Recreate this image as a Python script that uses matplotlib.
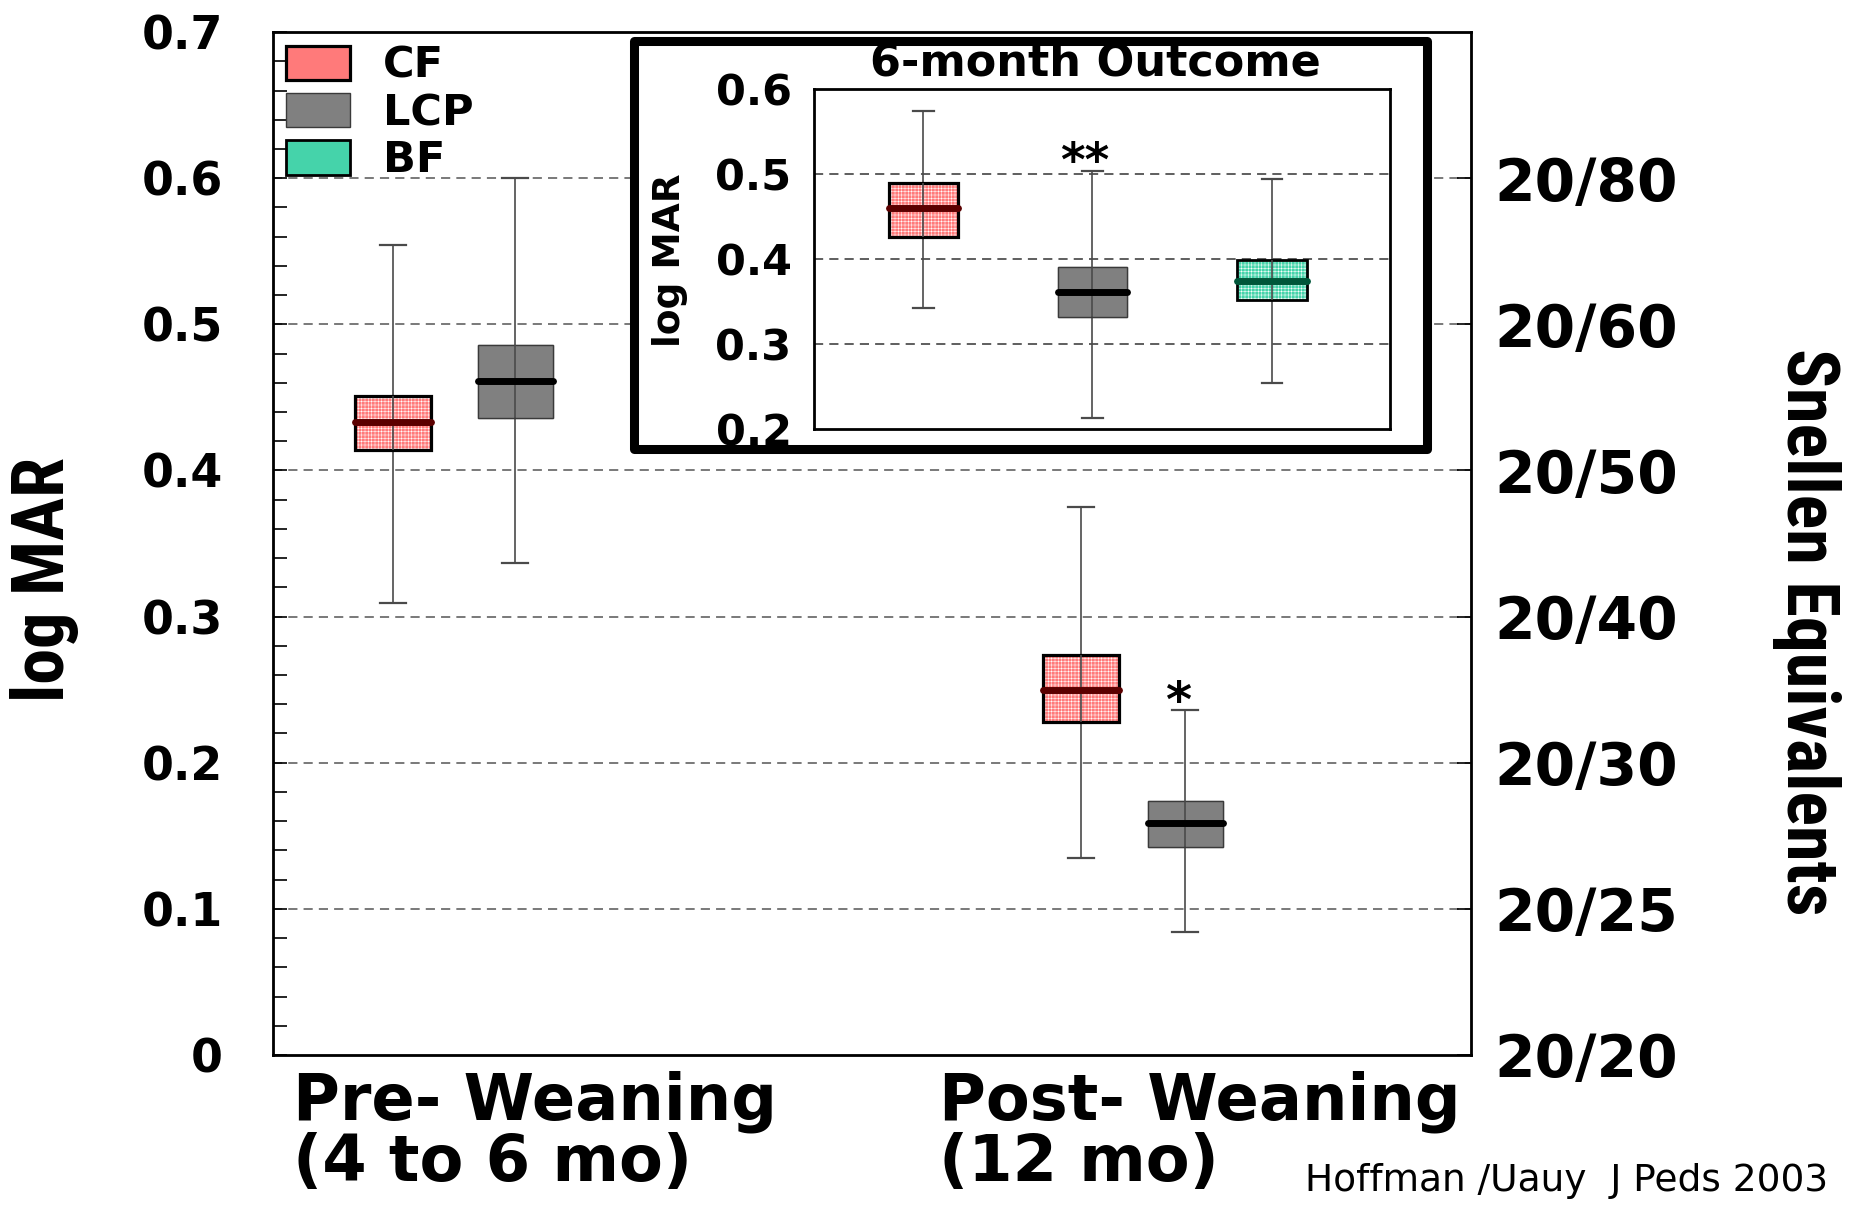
import numpy as np
import matplotlib
matplotlib.use('Agg')
import matplotlib.pyplot as plt
import matplotlib.transforms as mtransforms
from matplotlib import font_manager
from matplotlib.patches import Patch, PathPatch, Rectangle
from matplotlib.ticker import MultipleLocator

# values (log MAR)
main_diets = ['CF', 'LCP', 'CF', 'LCP']
main_whislo = [0.309, 0.337, 0.135, 0.084]
main_q1 = [0.414, 0.436, 0.228, 0.142]
main_med = [0.433, 0.461, 0.250, 0.159]
main_q3 = [0.451, 0.486, 0.274, 0.174]
main_whishi = [0.554, 0.600, 0.375, 0.236]
group_labels = ['Pre- Weaning\n(4 to 6 mo)', 'Post- Weaning\n(12 mo)']

inset_diets = ['CF', 'LCP', 'BF']
inset_whislo = [0.343, 0.213, 0.255]
inset_q1 = [0.426, 0.332, 0.352]
inset_med = [0.460, 0.361, 0.375]
inset_q3 = [0.490, 0.391, 0.399]
inset_whishi = [0.575, 0.504, 0.495]

snellen_values = [0.0, 0.1, 0.2, 0.3, 0.4, 0.5, 0.6]
snellen_labels = ['20/20', '20/25', '20/30', '20/40', '20/50', '20/60', '20/80']
legend_labels = ['CF', 'LCP', 'BF']

# styling per diet
fill = {'CF': '#ff7a7a', 'LCP': '#808080', 'BF': '#45d3aa'}
edge = {'CF': 'black', 'LCP': '#3a3a3a', 'BF': 'black'}
edge_lw = {'CF': 2.3, 'LCP': 1.0, 'BF': 2.0}
med_col = {'CF': '#5c0000', 'LCP': 'black', 'BF': '#00573a'}
hatched = {'CF': True, 'LCP': False, 'BF': True}

plt.rcParams['hatch.linewidth'] = 0.35
BOLD = dict(weight='bold', family='DejaVu Sans')

# the axis titles are in a narrow face on the slide; use one if there is one
installed = {f.name for f in font_manager.fontManager.ttflist}
narrow_face = None
for cand in ['Liberation Sans Narrow', 'Roboto Condensed', 'Open Sans Condensed']:
    if cand in installed:
        narrow_face = cand
        break
if narrow_face:
    NARROW = dict(family=[narrow_face, 'DejaVu Sans'], weight='bold', fontsize=52)
else:
    NARROW = dict(family='DejaVu Sans', weight='bold', fontsize=39)


def make_stats(diets, lo, q1, med, q3, hi):
    return [dict(label=d, whislo=a, q1=b, med=c, q3=e, whishi=f, fliers=[])
            for d, a, b, c, e, f in zip(diets, lo, q1, med, q3, hi)]


def draw_boxes(ax, st, pos, width, capw):
    wc = '#4a4a4a'
    out = ax.bxp(st, positions=pos, widths=width, capwidths=capw, patch_artist=True,
                 showfliers=False, manage_ticks=False,
                 whiskerprops=dict(color=wc, lw=1.2),
                 capprops=dict(color=wc, lw=1.6),
                 medianprops=dict(lw=5, solid_capstyle='round'))
    for s, box, med in zip(st, out['boxes'], out['medians']):
        d = s['label']
        box.set_facecolor(fill[d])
        box.set_zorder(2)
        if hatched[d]:
            box.set_edgecolor('white')
            box.set_hatch('+++++')
            box.set_linewidth(0)
        else:
            box.set_edgecolor(fill[d])
        ax.add_patch(PathPatch(box.get_path(), fill=False, ec=edge[d], lw=edge_lw[d], zorder=2.5))
        med.set_color(med_col[d])
        med.set_zorder(4)
    # whisker line runs through the box in the original
    ax.vlines(pos, [s['q1'] for s in st], [s['q3'] for s in st], color=wc, lw=1.2, zorder=3)
    return out


fig = plt.figure(figsize=(18.52, 12.05), dpi=100)

# ---- main panel
ax = fig.add_axes([0.1474, 0.1245, 0.6469, 0.8489])
main_pos = [1.015, 2.053, 6.845, 7.73]
draw_boxes(ax, make_stats(main_diets, main_whislo, main_q1, main_med, main_q3, main_whishi),
           main_pos, 0.64, 0.22)
ax.set_xlim(0, 10.15)
ax.set_ylim(0, 0.7)
ax.set_xticks([])
ax.yaxis.set_minor_locator(MultipleLocator(0.02))
ax.set_yticks(np.arange(0, 0.71, 0.1))
ax.set_yticklabels(['0', '0.1', '0.2', '0.3', '0.4', '0.5', '0.6', '0.7'])
ax.tick_params(axis='y', which='both', direction='in', length=10, width=1.2, pad=36)
ax.tick_params(axis='y', labelsize=33)
for t in ax.get_yticklabels():
    t.set_fontweight('bold')
for y in np.arange(0.1, 0.65, 0.1):
    ax.axhline(y, color='#555555', lw=1.1, ls=(0, (6, 4)), zorder=1)
for sp in ax.spines.values():
    sp.set_linewidth(2)

ax2 = ax.twinx()
ax2.set_ylim(ax.get_ylim())
ax2.set_yticks(snellen_values)
ax2.set_yticklabels(snellen_labels)
ax2.tick_params(axis='y', direction='in', length=10, width=1.2, pad=17, labelsize=42)
for t in ax2.get_yticklabels():
    t.set_fontweight('bold')
ax2.set_yticks([], minor=True)

# group names under the axis, one text per line
xt = mtransforms.blended_transform_factory(ax.transData, ax.transAxes)
for gx, lab in zip([0.17, 5.64], group_labels):
    for ly, line in zip([-0.063, -0.123], lab.split('\n')):
        ax.text(gx, ly, line, transform=xt, ha='left', va='baseline', fontsize=46, **BOLD)
ax.text(7.67, 0.241, '*', ha='center', va='center', fontsize=36, **BOLD)

handles = [Patch(fc=fill[d], ec=edge[d], lw=edge_lw[d]) for d in legend_labels]
ax.legend(handles, legend_labels, loc='upper left', frameon=False,
          prop=dict(weight='bold', size=31), handlelength=1.5, handleheight=0.85,
          handletextpad=0.75, labelspacing=0.12, borderpad=0, borderaxespad=0.3)

fig.text(0.0238, 0.5195, 'log MAR', rotation=90, ha='center', va='center', **NARROW)
fig.text(0.9757, 0.4755, 'Snellen Equivalents', rotation=270, ha='center', va='center', **NARROW)
fig.text(0.987, 0.0199, 'Hoffman /Uauy  J Peds 2003', ha='right', va='center', fontsize=27)

# ---- inset: 6-month outcome
fig.add_artist(Rectangle((0.3423, 0.6274), 0.4282, 0.3386, transform=fig.transFigure,
                         fc='white', ec='black', lw=6.5, joinstyle='round', zorder=2))
iax = fig.add_axes([0.4394, 0.6437, 0.3112, 0.2822], zorder=3)
draw_boxes(iax, make_stats(inset_diets, inset_whislo, inset_q1, inset_med, inset_q3, inset_whishi),
           [0.19, 0.483, 0.795], 0.12, 0.036)
iax.set_xlim(0, 1)
iax.set_ylim(0.2, 0.6)
iax.set_xticks([])
iax.set_yticks([0.2, 0.3, 0.4, 0.5, 0.6])
iax.set_yticklabels(['0.2', '0.3', '0.4', '0.5', '0.6'])
iax.tick_params(axis='y', length=0, pad=16, labelsize=31)
for t in iax.get_yticklabels():
    t.set_fontweight('bold')
for y in [0.3, 0.4, 0.5]:
    iax.axhline(y, color='#333333', lw=1.1, ls=(0, (6, 4)), zorder=1)
for sp in iax.spines.values():
    sp.set_linewidth(2)
iax.text(0.47, 0.513, '**', ha='center', va='center', fontsize=34, **BOLD)
fig.text(0.5914, 0.9475, '6-month Outcome', ha='center', va='center', fontsize=32, **BOLD)
fig.text(0.3619, 0.7837, 'log MAR', rotation=90, ha='center', va='center', fontsize=27, **BOLD)

fig.savefig('out.png', dpi=100)
